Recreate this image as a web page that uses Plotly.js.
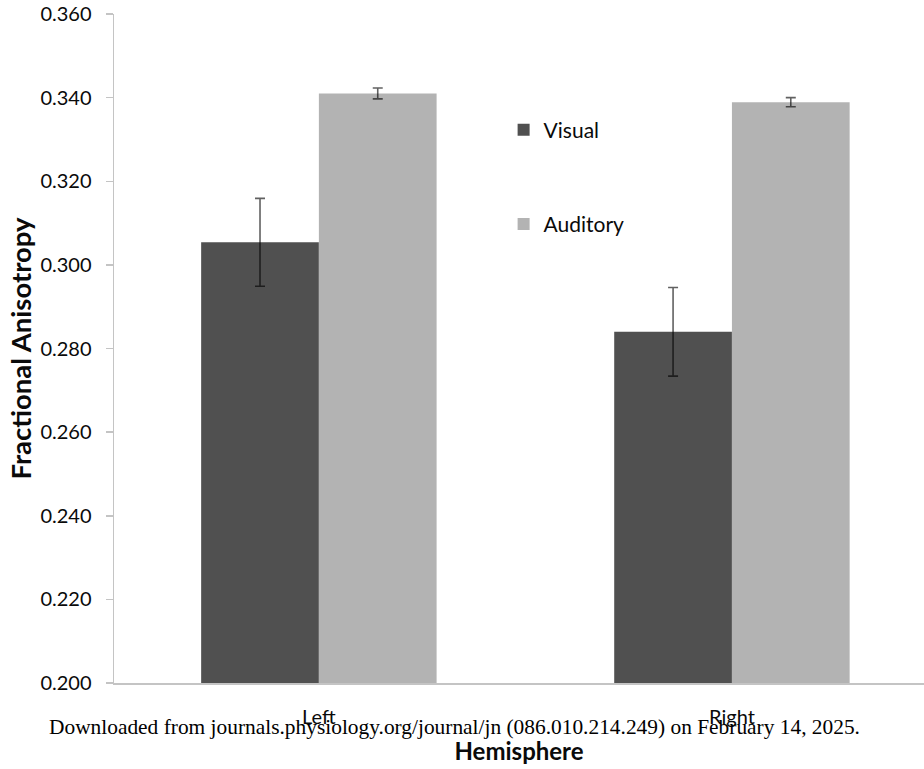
<!DOCTYPE html>
<html>
<head>
<meta charset="utf-8">
<script src="https://cdn.plot.ly/plotly-3.0.1.min.js"></script>
<style>html,body{margin:0;padding:0;background:#fff}#chart{width:924px;height:769px}</style>
</head>
<body>
<div id="chart"></div>
<script>
var categories = ["Left", "Right"];
var visualValues = [0.3054, 0.2840];
var visualErrors = [0.0105, 0.0106];
var auditoryValues = [0.3410, 0.3389];
var auditoryErrors = [0.0013, 0.0011];
var yTickValues = [0.200, 0.220, 0.240, 0.260, 0.280, 0.300, 0.320, 0.340, 0.360];
var yTickLabels = ["0.200", "0.220", "0.240", "0.260", "0.280", "0.300", "0.320", "0.340", "0.360"];

var sans = "Lato, 'Open Sans', sans-serif";
var errStyle = {type: "data", visible: true, color: "rgba(0,0,0,0.62)", thickness: 1.6, width: 5};

var traces = [
  {
    type: "bar", name: "Visual", x: categories, y: visualValues,
    marker: {color: "#505050", line: {width: 0}},
    error_y: Object.assign({array: visualErrors}, errStyle),
    legendgroup: "v", hoverinfo: "none"
  },
  {
    type: "bar", name: "Auditory", x: categories, y: auditoryValues,
    marker: {color: "#b3b3b3", line: {width: 0}},
    error_y: Object.assign({array: auditoryErrors}, errStyle),
    legendgroup: "a", hoverinfo: "none"
  }
];

var layout = {
  width: 924, height: 769,
  margin: {l: 114, r: 0, t: 14, b: 86, pad: 0},
  paper_bgcolor: "#ffffff", plot_bgcolor: "#ffffff",
  barmode: "group", bargap: 0.43, bargroupgap: 0,
  font: {family: sans, color: "#0a0a0a", size: 20},
  showlegend: true,
  legend: {
    x: 0.481, y: 0.857, xanchor: "left", yanchor: "top",
    traceorder: "grouped", tracegroupgap: 64,
    font: {family: sans, size: 21, color: "#0a0a0a"},
    bgcolor: "rgba(0,0,0,0)", borderwidth: 0, itemwidth: 30
  },
  xaxis: {
    type: "category", range: [-0.496, 1.465],
    showline: true, linecolor: "#c4c4c4", linewidth: 1.5,
    ticks: "outside", ticklen: 15, tickcolor: "rgba(0,0,0,0)",
    showgrid: false, zeroline: false,
    tickfont: {family: sans, size: 20, color: "#0a0a0a"},
    title: {text: "<b>Hemisphere</b>", font: {family: sans, size: 24, color: "#0a0a0a"}, standoff: 16},
    automargin: false, fixedrange: true
  },
  yaxis: {
    range: [0.2, 0.36],
    tickvals: yTickValues, ticktext: yTickLabels,
    showline: true, linecolor: "#c4c4c4", linewidth: 1.5,
    ticks: "outside", ticklen: 7, tickcolor: "#c4c4c4", tickwidth: 1.5,
    ticklabelstandoff: 10,
    showgrid: false, zeroline: false,
    tickfont: {family: sans, size: 20, color: "#0a0a0a"},
    title: {text: "<b>Fractional Anisotropy</b>", font: {family: sans, size: 27.5, color: "#0a0a0a"}, standoff: 1},
    automargin: false, fixedrange: true
  },
  annotations: [
    {
      text: "Downloaded from journals.physiology.org/journal/jn (086.010.214.249) on February 14, 2025.",
      xref: "paper", yref: "paper", x: 0.42, y: -0.0665,
      xanchor: "center", yanchor: "middle", showarrow: false,
      font: {family: "'Liberation Serif', 'Times New Roman', serif", size: 21.4, color: "#000000"}
    }
  ]
};

Plotly.newPlot("chart", traces, layout, {staticPlot: true, displayModeBar: false});
</script>
</body>
</html>
